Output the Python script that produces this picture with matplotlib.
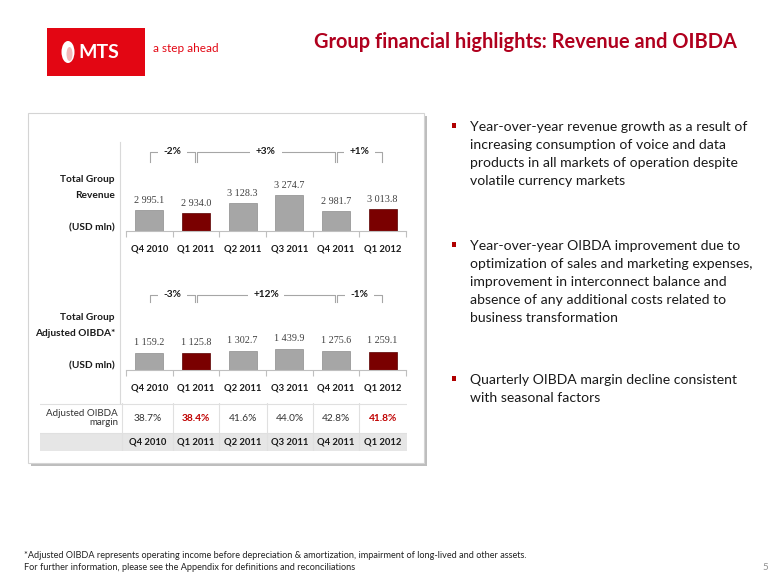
import matplotlib
matplotlib.use('Agg')
import matplotlib.pyplot as plt
from matplotlib.patches import Rectangle, Ellipse
import matplotlib.transforms as mtransforms

W, H = 780, 585

quarters = ['Q4 2010', 'Q1 2011', 'Q2 2011', 'Q3 2011', 'Q4 2011', 'Q1 2012']
revenue = [2995.1, 2934.0, 3128.3, 3274.7, 2981.7, 3013.8]
oibda = [1159.2, 1125.8, 1302.7, 1439.9, 1275.6, 1259.1]
margin = ['38.7%', '38.4%', '41.6%', '44.0%', '42.8%', '41.8%']
highlight = [False, True, False, False, False, True]
rev_changes = [(0, 1, '-2%'), (1, 4, '+3%'), (4, 5, '+1%')]
oibda_changes = [(0, 1, '-3%'), (1, 4, '+12%'), (4, 5, '-1%')]

bullets = [
    "Year-over-year revenue growth as a result of\nincreasing consumption of voice and data\nproducts in all markets of operation despite\nvolatile currency markets",
    "Year-over-year OIBDA improvement due to\noptimization of sales and marketing expenses,\nimprovement in interconnect balance and\nabsence of any additional costs related to\nbusiness transformation",
    "Quarterly OIBDA margin decline consistent\nwith seasonal factors",
]

FONT = ['Lato', 'DejaVu Sans']
plt.rcParams['font.family'] = FONT

GRAY = '#a6a6a6'
RED = '#7a0000'
TITLE_RED = '#b0001e'
MTS_RED = '#e30613'


def rect(x0, y0, x1, y1):
    return [x0 / W, 1 - y1 / H, (x1 - x0) / W, (y1 - y0) / H]


fig = plt.figure(figsize=(W / 100, H / 100), dpi=100)
bg = fig.add_axes([0, 0, 1, 1])
bg.set_xlim(0, W)
bg.set_ylim(H, 0)
bg.axis('off')

# logo
bg.add_patch(Rectangle((47, 28), 98, 48, facecolor=MTS_RED, edgecolor='none'))
bg.add_patch(Ellipse((68, 52), 13, 22, facecolor='white', edgecolor='none'))
bg.add_patch(Ellipse((69.5, 54), 6, 14, facecolor='#f2b8b8', edgecolor='none'))
bg.text(78, 53, 'MTS', color='white', fontsize=14, fontweight='bold', va='center', ha='left')
bg.text(153, 48, 'a step ahead', color=MTS_RED, fontsize=8.5, va='center', ha='left')

# title
bg.text(737, 42, 'Group financial highlights: Revenue and OIBDA', color=TITLE_RED,
        fontsize=14.4, fontweight='bold', ha='right', va='center')

# panel with shadow
bg.add_patch(Rectangle((31, 116), 396, 350, facecolor='#bdbdbd', edgecolor='none'))
bg.add_patch(Rectangle((28, 113), 396, 350, facecolor='white', edgecolor='#d4d4d4', lw=0.8))

# separator
bg.plot([120, 120], [142, 403], color='#d9d9d9', lw=0.8)

# left labels
for y, s in [(179, 'Total Group'), (195, 'Revenue'), (228, '(USD mln)'),
             (317, 'Total Group'), (333, 'Adjusted OIBDA*'), (366, '(USD mln)')]:
    bg.text(115, y, s, fontsize=7.3, fontweight='bold', ha='right', va='center', color='#1a1a1a')


def fmt(v):
    return f"{v:,.1f}".replace(',', ' ')


def bar_chart(box, values, ylim, changes, bry, brtick, lab_off):
    ax = fig.add_axes(rect(*box))
    ax.set_facecolor('none')
    x = list(range(len(values)))
    cols = [RED if h else GRAY for h in highlight]
    ax.bar(x, [v - ylim[0] for v in values], bottom=ylim[0], width=0.6, color=cols,
           edgecolor=['#5a0000' if h else '#8c8c8c' for h in highlight], lw=0.5, zorder=2)
    ax.set_xlim(-0.5, len(values) - 0.5)
    ax.set_ylim(*ylim)
    for s in ['top', 'right', 'left']:
        ax.spines[s].set_visible(False)
    ax.spines['bottom'].set_color('#bfbfbf')
    ax.spines['bottom'].set_linewidth(0.8)
    ax.set_yticks([])
    ax.set_xticks(x)
    ax.set_xticklabels(quarters, fontsize=6.8, fontweight='bold', color='#1a1a1a')
    ax.tick_params(axis='x', which='major', length=0, pad=10)
    ax.set_xticks([i - 0.5 for i in range(len(values) + 1)], minor=True)
    ax.tick_params(axis='x', which='minor', length=4, color='#bfbfbf', width=0.8)
    for i, v in enumerate(values):
        ax.annotate(fmt(v), (i, v), xytext=(0, lab_off), textcoords='offset points',
                    ha='center', va='bottom', fontsize=7.3, family='Liberation Serif',
                    color='#404040')
    tr = mtransforms.blended_transform_factory(ax.transData, ax.transAxes)
    for a, b, lab in changes:
        a2, b2 = a + 0.02, b - 0.02
        ax.plot([a2, a2, b2, b2], [brtick, bry, bry, brtick], color='#a6a6a6', lw=0.8,
                transform=tr, clip_on=False)
        ax.text((a + b) / 2, bry, lab, transform=tr, ha='center', va='center', fontsize=7.3,
                fontweight='bold', color='#1a1a1a',
                bbox=dict(facecolor='white', edgecolor='none', pad=4))
    return ax


bar_chart((126, 142, 406, 231), revenue, (2603, 2603 + 89 / 0.0536), rev_changes,
          0.888, 0.775, 3.5)
bar_chart((126, 281, 406, 370), oibda, (0, 89 / 0.01467), oibda_changes,
          0.843, 0.765, 4.5)

# table
tab = fig.add_axes(rect(40, 403, 407, 451))
tab.set_xlim(40, 407)
tab.set_ylim(451, 403)
tab.axis('off')
cols_x = [40, 122, 173, 219, 267, 313, 359, 407]
tab.add_patch(Rectangle((40, 433), 367, 18, facecolor='#e6e6e6', edgecolor='none'))
tab.plot([40, 407], [403.5, 403.5], color='#e0e0e0', lw=0.8)
tab.plot([40, 407], [433, 433], color='#e0e0e0', lw=0.8)
for cx in cols_x[1:-1]:
    tab.plot([cx, cx], [403, 451], color='#e0e0e0', lw=0.8)
tab.text(118, 418, 'Adjusted OIBDA\nmargin', ha='right', va='center', fontsize=7,
         color='#333333', linespacing=1.1)
for i, (m, q) in enumerate(zip(margin, quarters)):
    cx = (cols_x[i + 1] + cols_x[i + 2]) / 2
    tab.text(cx, 418, m, ha='center', va='center', fontsize=7.3,
             color='#c00000' if highlight[i] else '#333333',
             fontweight='bold' if highlight[i] else 'normal')
    tab.text(cx, 442, q, ha='center', va='center', fontsize=6.8, fontweight='bold',
             color='#1a1a1a')

# bullets
for y, txt in zip([128, 247, 381], bullets):
    bg.add_patch(Rectangle((452, y - 5), 4, 5, facecolor='#b00000', edgecolor='none'))
    bg.text(470, y - 7, txt, fontsize=10.1, ha='left', va='top', color='#1a1a1a',
            linespacing=1.6)

# footnotes
bg.text(24, 555, '*Adjusted OIBDA represents operating income before depreciation & amortization, '
        'impairment of long-lived and other assets.', fontsize=6.6, va='center', color='#222222')
bg.text(24, 568, 'For further information, please see the Appendix for definitions and '
        'reconciliations', fontsize=6.6, va='center', color='#222222')
bg.text(765, 568, '5', fontsize=7, va='center', ha='center', color='#909090')

fig.savefig('out.png', dpi=100)
